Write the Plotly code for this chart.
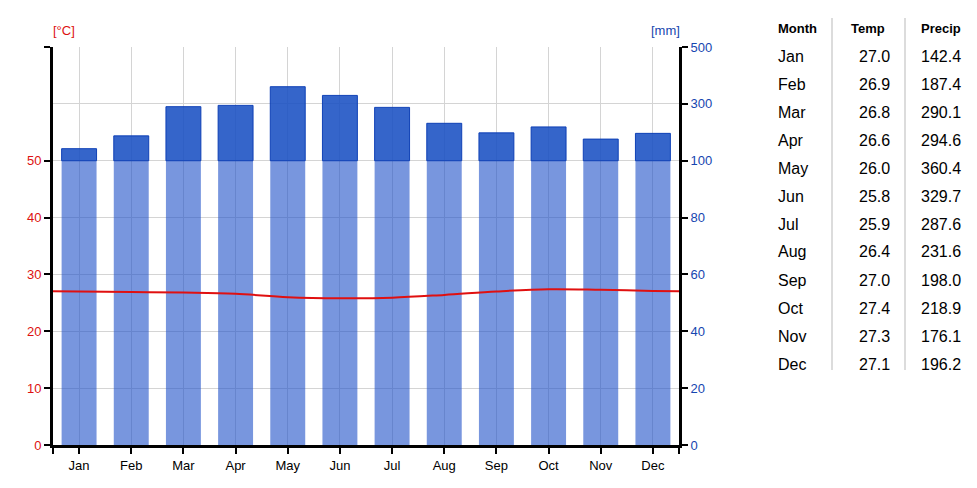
"""Climate chart - monthly temperature line over precipitation bars, with a value table."""
import plotly.graph_objects as go

months = ['Jan', 'Feb', 'Mar', 'Apr', 'May', 'Jun',
          'Jul', 'Aug', 'Sep', 'Oct', 'Nov', 'Dec']
temp_c = [27.0, 26.9, 26.8, 26.6, 26.0, 25.8, 25.9, 26.4, 27.0, 27.4, 27.3, 27.1]
precip_mm = [142.4, 187.4, 290.1, 294.6, 360.4, 329.7,
             287.6, 231.6, 198.0, 218.9, 176.1, 196.2]

temp_ticks = [0, 10, 20, 30, 40, 50]
precip_tick_labels = ['0', '20', '40', '60', '80', '100', '300', '500']

RED = '#dd1111'
BLUE = '#1646b0'
FONT = 'Liberation Sans, Arial, sans-serif'

# page has an 8px body margin; figure is sized to fit the window
OFF = 8
W, H = 977 - OFF, 488 - OFF
# plot area in window pixels (also used to place the side table)
L, R, T, B = 53, 679, 47, 445


def mm_to_scale(p):
    # Walter-Lieth style: 20 mm per 10 degC up to 100 mm, then 200 mm per 10 degC
    if p <= 100:
        return p / 2.0
    return 50 + (p - 100) / 20.0


def px(x):
    return (x - L) / (R - L)


def py(y):
    return (B - y) / (B - T)


x = list(range(len(months)))
low_part = [mm_to_scale(min(p, 100)) for p in precip_mm]
high_part = [mm_to_scale(p) - mm_to_scale(100) if p > 100 else 0 for p in precip_mm]

fig = go.Figure()

fig.add_trace(go.Bar(
    x=x, y=low_part, width=0.67,
    marker=dict(color='rgba(30,80,200,0.6)', line=dict(width=0)),
    showlegend=False, yaxis='y'
))
fig.add_trace(go.Bar(
    x=x, y=high_part, base=[mm_to_scale(100)] * len(x), width=0.67,
    marker=dict(color='rgba(25,80,195,0.88)',
                line=dict(color='rgba(10,60,180,0.95)', width=1)),
    showlegend=False, yaxis='y'
))

# wrap Dec before Jan and Jan after Dec so the curve runs to both edges
line_x = [-1] + x + [12]
line_y = [temp_c[-1]] + temp_c + [temp_c[0]]
fig.add_trace(go.Scatter(
    x=line_x, y=line_y, mode='lines',
    line=dict(color='#e01010', width=2, shape='spline', smoothing=1),
    showlegend=False, yaxis='y'
))

# dummy trace so the right axis is drawn
fig.add_trace(go.Scatter(x=[None], y=[None], yaxis='y2', showlegend=False))

fig.update_layout(
    width=W, height=H,
    margin=dict(l=L - OFF, r=W - (R - OFF), t=T - OFF, b=H - (B - OFF)),
    plot_bgcolor='white', paper_bgcolor='white',
    font=dict(family=FONT, size=13, color='black'),
    barmode='overlay',
    xaxis=dict(
        range=[-0.5, 11.5],
        tickvals=[-0.5] + x + [11.5],
        ticktext=[''] + months + [''],
        showgrid=True, gridcolor='#d4d4d4', gridwidth=1,
        showline=True, linecolor='black', linewidth=3,
        ticks='outside', ticklen=6, tickwidth=2, tickcolor='black',
        zeroline=False, tickfont=dict(size=13, color='black'),
    ),
    yaxis=dict(
        range=[0, 70],
        tickvals=temp_ticks + [70],
        ticktext=[str(t) for t in temp_ticks] + [''],
        showgrid=False, zeroline=False,
        showline=True, linecolor='black', linewidth=3,
        ticks='outside', ticklen=6, tickwidth=2, tickcolor='black',
        tickfont=dict(size=13, color=RED),
    ),
    yaxis2=dict(
        range=[0, 70], overlaying='y', side='right',
        tickvals=list(range(0, 80, 10)),
        ticktext=precip_tick_labels,
        showgrid=True, gridcolor='#d4d4d4', gridwidth=1, zeroline=False,
        showline=True, linecolor='black', linewidth=3,
        ticks='outside', ticklen=6, tickwidth=2, tickcolor='black',
        tickfont=dict(size=13, color=BLUE),
    ),
)

annotations = [
    dict(text='[°C]', x=px(64), y=py(30), font=dict(size=13, color=RED)),
    dict(text='[mm]', x=px(665), y=py(30), font=dict(size=13, color=BLUE)),
    dict(text='<b>Month</b>', x=px(776), y=py(29), xanchor='left', font=dict(size=13)),
    dict(text='<b>Temp</b>', x=px(868), y=py(29), font=dict(size=13)),
    dict(text='<b>Precip</b>', x=px(941), y=py(29), font=dict(size=13)),
]
for i, m in enumerate(months):
    row_y = py(56 + 28 * i)
    annotations.append(dict(text=m, x=px(776), y=row_y, xanchor='left', font=dict(size=16)))
    annotations.append(dict(text=f'{temp_c[i]:.1f}', x=px(892), y=row_y, xanchor='right',
                            font=dict(size=16)))
    annotations.append(dict(text=f'{precip_mm[i]:.1f}', x=px(963), y=row_y, xanchor='right',
                            font=dict(size=16)))

for a in annotations:
    a.setdefault('xanchor', 'center')
    a.update(xref='paper', yref='paper', yanchor='middle', showarrow=False)
    a['font'].setdefault('family', FONT)
    a['font'].setdefault('color', 'black')

fig.update_layout(annotations=annotations)

# column separators of the table
for sx in (832, 905):
    fig.add_shape(type='line', xref='paper', yref='paper',
                  x0=px(sx), x1=px(sx), y0=py(18), y1=py(370),
                  line=dict(color='#d0d0d0', width=1.5))

fig.write_html("out.html")
